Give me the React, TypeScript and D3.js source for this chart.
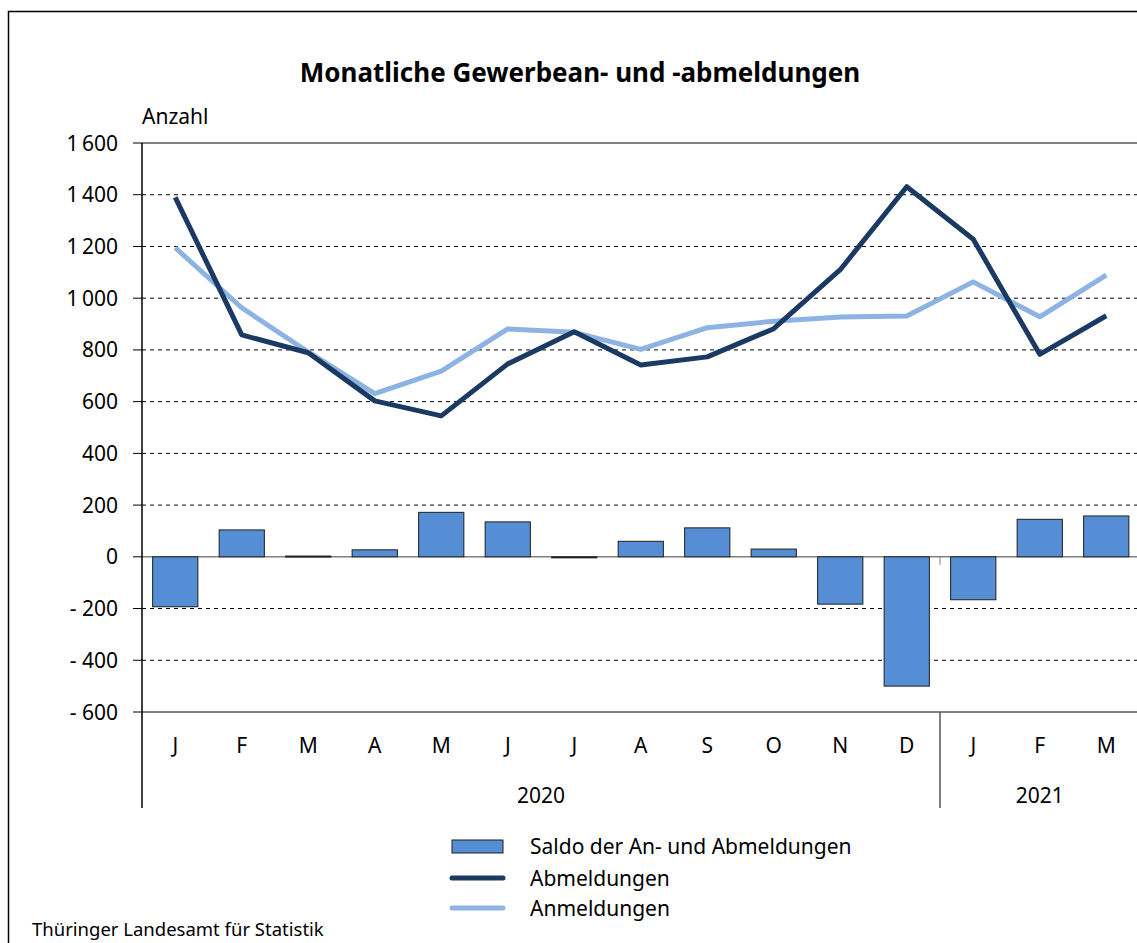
import * as d3 from "d3";

const months = ["J", "F", "M", "A", "M", "J", "J", "A", "S", "O", "N", "D", "J", "F", "M"];
const years = [
  { label: "2020", from: 0, to: 12 },
  { label: "2021", from: 12, to: 15 },
];
const abmeldungen = [1390, 858, 789, 603, 545, 746, 870, 742, 773, 882, 1110, 1431, 1228, 783, 932];
const anmeldungen = [1195, 963, 792, 631, 718, 881, 868, 802, 886, 911, 927, 931, 1063, 928, 1089];
const saldo = [-193, 104, 3, 27, 172, 135, -2, 60, 112, 30, -183, -500, -166, 145, 158];
const yTicks = [1600, 1400, 1200, 1000, 800, 600, 400, 200, 0, -200, -400, -600];

const W = 1137;
const H = 943;
const FONT = "'Noto Sans', 'Open Sans', sans-serif";
const FS = 21;

const fmt = (v: number) => {
  const s = Math.abs(v).toString().replace(/\B(?=(\d{3})+(?!\d))/g, "\u2009");
  return v < 0 ? "- " + s : s;
};

export default function App() {
  const x = d3
    .scaleBand<number>()
    .domain(d3.range(months.length))
    .range([142, 1139.5])
    .paddingInner(0.32)
    .paddingOuter(0.16);
  const step = x.step();
  const left = 142;
  const y = d3.scaleLinear().domain([-600, 1600]).range([712, 143]);
  const cx = (i: number) => (x(i) as number) + x.bandwidth() / 2;
  const line = d3
    .line<number>()
    .x((_, i) => cx(i))
    .y((d) => y(d));
  const yearX = (i: number) => left + i * step;

  return (
    <svg width={W} height={H} style={{ position: "absolute", left: 0, top: 0 }}>
      <rect width={W} height={H} fill="#fff" />
      <path d={`M8.5,${H} V11.5 H${W}`} fill="none" stroke="#000" strokeWidth={1.5} />
      <text x={580} y={82} textAnchor="middle" fontFamily={FONT} fontWeight="bold" fontSize={26}>
        Monatliche Gewerbean- und -abmeldungen
      </text>
      <text x={142} y={124} fontFamily={FONT} fontSize={FS}>Anzahl</text>

      {yTicks.map((t) => (
        <g key={t}>
          <line
            x1={left}
            x2={1139}
            y1={y(t)}
            y2={y(t)}
            stroke={t === 0 ? "#808080" : "#000"}
            strokeWidth={t === 0 ? 1.5 : 1}
            strokeDasharray={t === 0 || t === 1600 || t === -600 ? undefined : "4,4"}
          />
          <line x1={133} x2={left} y1={y(t)} y2={y(t)} stroke="#000" />
          <text x={118} y={y(t) + 7.5} textAnchor="end" fontFamily={FONT} fontSize={FS}>
            {fmt(t)}
          </text>
        </g>
      ))}
      <line x1={left} x2={left} y1={143} y2={808} stroke="#000" strokeWidth={1.5} />
      <line x1={yearX(12)} x2={yearX(12)} y1={712} y2={808} stroke="#555" strokeWidth={1.5} />
      <line x1={yearX(12)} x2={yearX(12)} y1={y(0)} y2={y(0) + 8} stroke="#808080" />

      {saldo.map((v, i) => (
        <rect
          key={i}
          x={x(i)}
          width={x.bandwidth()}
          y={Math.min(y(v), y(0))}
          height={Math.max(Math.abs(y(v) - y(0)), 1)}
          fill="#558ed5"
          stroke="#1f1f1f"
          strokeWidth={1}
        />
      ))}

      <path d={line(anmeldungen) || ""} fill="none" stroke="#8db3e2" strokeWidth={5} strokeLinejoin="round" />
      <path d={line(abmeldungen) || ""} fill="none" stroke="#1b3a63" strokeWidth={5} strokeLinejoin="round" />

      {months.map((m, i) => (
        <text key={i} x={cx(i)} y={753} textAnchor="middle" fontFamily={FONT} fontSize={FS}>
          {m}
        </text>
      ))}
      {years.map((yr) => (
        <text
          key={yr.label}
          x={(yearX(yr.from) + yearX(yr.to)) / 2}
          y={803}
          textAnchor="middle"
          fontFamily={FONT}
          fontSize={FS}
        >
          {yr.label}
        </text>
      ))}

      <rect x={452} y={840} width={51} height={13} fill="#558ed5" stroke="#1f1f1f" />
      <text x={530} y={854} fontFamily={FONT} fontSize={FS}>Saldo der An- und Abmeldungen</text>
      <line x1={452} x2={503} y1={878} y2={878} stroke="#1b3a63" strokeWidth={5} strokeLinecap="round" />
      <text x={530} y={886} fontFamily={FONT} fontSize={FS}>Abmeldungen</text>
      <line x1={452} x2={503} y1={908} y2={908} stroke="#8db3e2" strokeWidth={5} strokeLinecap="round" />
      <text x={530} y={916} fontFamily={FONT} fontSize={FS}>Anmeldungen</text>

      <text x={32} y={936} fontFamily={FONT} fontSize={18.5}>Thüringer Landesamt für Statistik</text>
    </svg>
  );
}
